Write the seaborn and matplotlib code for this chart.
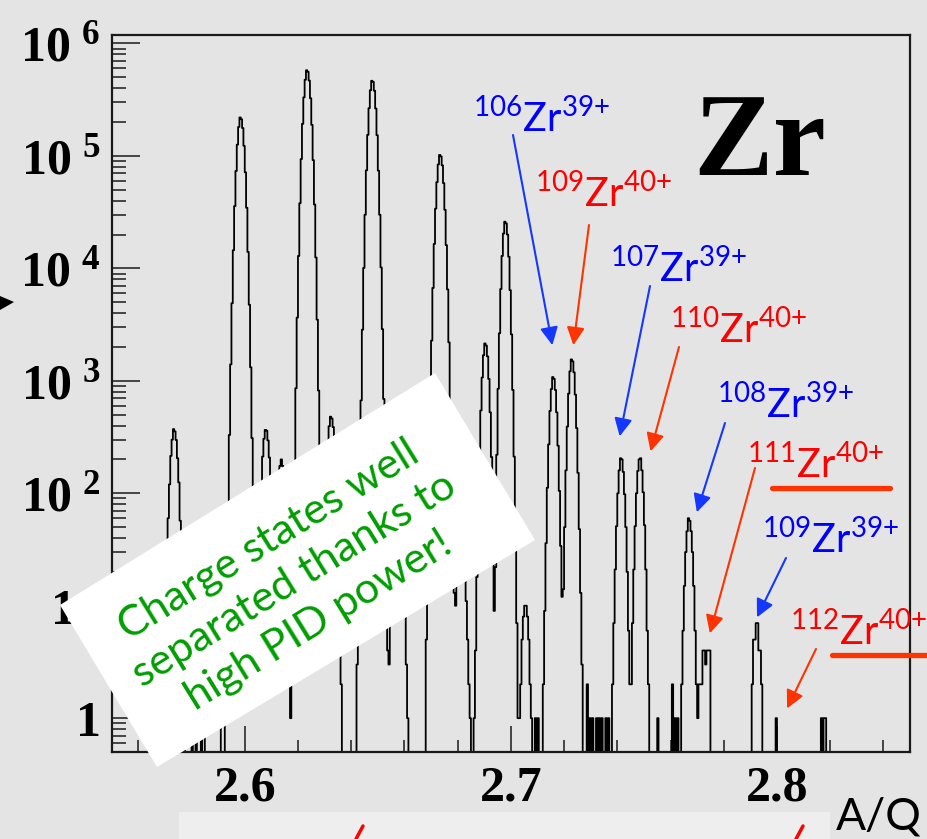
import numpy as np
import pandas as pd
import matplotlib
matplotlib.use("Agg")
import matplotlib.pyplot as plt
import seaborn as sns
from matplotlib.patches import Polygon, Rectangle
from matplotlib.lines import Line2D
from matplotlib.ticker import FixedLocator, NullFormatter, LogLocator

# ---------------- data (A/Q histogram, bin width 0.0005) ----------------
aq_min, aq_max, bin_width = 2.55, 2.85, 0.0005

p103_start = 2.5695
p103_counts = [2, 7, 25, 60, 120, 215, 300, 372, 355, 298, 205, 125, 57, 23, 8, 2]
p101b_start = 2.585
p101b_counts = [1, 2, 5, 12, 22, 30, 28, 20, 10, 4, 2, 1]
p104_start = 2.5925
p104_counts = [1, 9, 60, 330, 1400, 4900, 14500, 35800, 73500, 126000, 181000, 220000,
               212000, 177000, 123000, 71500, 34600, 14000, 4750, 1320, 310, 60, 11, 2]
p107q41_start = 2.604
p107q41_counts = [2, 8, 23, 62, 118, 212, 305, 366, 360, 295, 208, 120, 60, 22, 7, 2]
p102b_start = 2.61
p102b_counts = [1, 3, 9, 26, 65, 120, 175, 200, 175, 120, 65, 26, 9, 3, 1]
p105_start = 2.6175
p105_counts = [3, 26, 170, 860, 3650, 12900, 38000, 93800, 193000, 332000, 476000, 578000,
               560000, 468000, 326000, 189000, 91800, 37000, 12500, 3500, 820, 160, 26, 4]
p108q41_start = 2.6285
p108q41_counts = [3, 11, 30, 78, 160, 270, 395, 480, 462, 388, 270, 155, 75, 30, 10, 2]
p106_start = 2.642
p106_counts = [3, 20, 128, 670, 2850, 10100, 30000, 74500, 154000, 266000, 384000, 466000,
               455000, 380000, 264000, 153000, 74000, 30000, 10200, 2880, 690, 140, 24, 3]
p109q41_start = 2.6535
p109q41_counts = [1, 3, 9, 24, 50, 85, 122, 146, 146, 122, 85, 50, 24, 9, 3, 1]
p107_start = 2.668
p107_counts = [5, 28, 150, 640, 2280, 6700, 16500, 34000, 58500, 84000, 102000, 99000,
               82500, 57300, 33200, 16100, 6500, 2200, 615, 150, 32, 8]
p110q41_start = 2.6775
p110q41_counts = [1, 2, 5, 10, 18, 28, 36, 40, 38, 30, 20, 11, 5, 2, 1]
p105b_start = 2.686
p105b_counts = [1, 4, 18, 72, 220, 545, 1070, 1690, 2150, 2060, 1650, 1040, 525, 210, 68, 6, 2]
p108_start = 2.693
p108_counts = [1, 3, 20, 220, 850, 2650, 6550, 12900, 20400, 26000, 25100, 20000,
               12700, 6400, 2590, 830, 212, 43, 7, 1]
p111q41_start = 2.703
p111q41_counts = [1, 2, 5, 8, 10, 10, 8, 5, 2, 1]
p106b_start = 2.712
p106b_counts = [2, 9, 36, 112, 272, 540, 845, 1080, 1040, 830, 525, 265, 105, 34, 9, 2]
p109_start = 2.719
p109_counts = [3, 12, 50, 160, 392, 770, 1215, 1550, 1490, 1190, 755, 380, 152, 48, 13, 3]
p107b_start = 2.738
p107b_counts = [2, 7, 21, 51, 100, 160, 205, 200, 155, 98, 50, 20, 6, 2]
p110_start = 2.745
p110_counts = [2, 7, 21, 51, 100, 158, 200, 205, 160, 102, 52, 21, 6, 2]
p108b_start = 2.764
p108b_counts = [2, 6, 15, 30, 46, 60, 57, 46, 30, 15, 6, 2, 1]
p111_start = 2.7705
p111_counts = [2, 2, 2, 4, 4, 3, 4, 4, 4]
p109b_start = 2.7905
p109b_counts = [2, 5, 5, 7, 7, 4, 4, 2]

single_aq = [2.58025, 2.58175, 2.58375, 2.70925, 2.71025, 2.72875, 2.72975, 2.73075,
             2.73225, 2.73325, 2.73425, 2.73575, 2.73675, 2.75525, 2.76075, 2.76175,
             2.76275, 2.79975, 2.81675, 2.81775, 2.81825]
single_counts = [1, 1, 1, 1, 1, 2, 1, 1, 1, 1, 1, 1, 1, 1, 2, 1, 1, 1, 1, 1, 1]

segments = [
    (p103_start, p103_counts), (p101b_start, p101b_counts), (p104_start, p104_counts),
    (p107q41_start, p107q41_counts), (p102b_start, p102b_counts), (p105_start, p105_counts),
    (p108q41_start, p108q41_counts), (p106_start, p106_counts), (p109q41_start, p109q41_counts),
    (p107_start, p107_counts), (p110q41_start, p110q41_counts), (p105b_start, p105b_counts),
    (p108_start, p108_counts), (p111q41_start, p111q41_counts), (p106b_start, p106b_counts),
    (p109_start, p109_counts), (p107b_start, p107b_counts), (p110_start, p110_counts),
    (p108b_start, p108b_counts), (p111_start, p111_counts), (p109b_start, p109b_counts),
]

# annotation labels
label_mass = ["106", "109", "107", "110", "108", "111", "109", "112"]
label_charge = ["39", "40", "39", "40", "39", "40", "39", "40"]
label_color = ["#0000ff", "#ff0000"] * 4
arrow_color = ["#1438ff", "#ff3300"] * 4
label_px = [(473, 132), (535, 207), (610, 282), (670, 343),
            (717, 418), (747, 478), (762, 553), (790, 645)]
arrow_from_px = [(513, 135), (589, 225), (650, 286), (679, 347),
                 (725, 423), (755, 468), (786, 558), (816, 649)]
arrow_tip_aq = [2.7156, 2.7235, 2.7409, 2.7525, 2.7699, 2.7748, 2.7925, 2.8038]
arrow_tip_counts = [2075, 2075, 321, 236, 67.8, 5.68, 7.88, 1.22]

x_major = [2.6, 2.7, 2.8]
x_major_labels = ["2.6", "2.7", "2.8"]
y_major = [1, 10, 1e2, 1e3, 1e4, 1e5, 1e6]
y_major_labels = ["1", "10", r"$\mathregular{10^{\ 2}}$", r"$\mathregular{10^{\ 3}}$",
                  r"$\mathregular{10^{\ 4}}$", r"$\mathregular{10^{\ 5}}$",
                  r"$\mathregular{10^{\ 6}}$"]

# ---------------- build histogram table ----------------
n_bins = int(round((aq_max - aq_min) / bin_width))
counts = np.zeros(n_bins)
for start, vals in segments:
    k0 = int(round((start - aq_min) / bin_width))
    counts[k0:k0 + len(vals)] += np.array(vals, dtype=float)
for a, c in zip(single_aq, single_counts):
    k = int((a - aq_min) / bin_width)
    counts[k] += c
edges = aq_min + np.arange(n_bins + 1) * bin_width
centers = 0.5 * (edges[:-1] + edges[1:])
df = pd.DataFrame({"aq": centers, "n": counts})

# ---------------- figure ----------------
W, H = 928, 839
sns.set_theme(style="white")
plt.rcParams["font.family"] = ["Lato", "DejaVu Sans"]
bg = "#e4e4e4"
fig = plt.figure(figsize=(W / 100, H / 100), dpi=100, facecolor=bg)
ax = fig.add_axes([111.7 / W, 1 - 752 / H, (910 - 111.7) / W, (752 - 35) / H])
ax.set_facecolor("none")

sns.histplot(data=df, x="aq", weights="n", bins=list(edges), element="step", fill=False,
             color="black", linewidth=1.3, ax=ax)
ax.set_yscale("log")
ax.set_xlim(aq_min, aq_max)
ax.set_ylim(0.5, 1.19e6)
ax.set_xlabel("")
ax.set_ylabel("")

for s in ax.spines.values():
    s.set_visible(True)
    s.set_color("#1a1a1a")
    s.set_linewidth(1.6)

tick_font = dict(family="Liberation Serif", weight="bold", size=36, color="black")
ax.xaxis.set_major_locator(FixedLocator(x_major))
ax.set_xticklabels(x_major_labels, **tick_font)
ax.xaxis.set_minor_locator(FixedLocator(np.arange(2.56, 2.8401, 0.02)))
ax.yaxis.set_major_locator(FixedLocator(y_major))
ax.set_yticklabels(y_major_labels, **tick_font)
ax.yaxis.set_minor_locator(LogLocator(base=10, subs=np.arange(2, 10), numticks=20))
ax.yaxis.set_minor_formatter(NullFormatter())
ax.tick_params(axis="x", which="major", direction="in", length=19, width=1.1, pad=10,
               color="#1a1a1a", bottom=True, top=False)
ax.tick_params(axis="x", which="minor", direction="in", length=9, width=1.1,
               color="#1a1a1a", bottom=True, top=False)
ax.tick_params(axis="y", which="major", direction="in", length=20, width=1.1, pad=8,
               color="#1a1a1a", left=True, right=False)
ax.tick_params(axis="y", which="minor", direction="in", length=10, width=1.1,
               color="#1a1a1a", left=True, right=False)

def fx(x):
    return x / W

def fy(y):
    return 1 - y / H

# big element label
fig.text(fx(693), fy(175), "Zr", family="Liberation Serif", weight="bold", size=86,
         ha="left", va="baseline", color="black")

# isotope labels and arrows
for m, q, col, acol, (lx, ly), (sx, sy), ta, tc in zip(
        label_mass, label_charge, label_color, arrow_color, label_px,
        arrow_from_px, arrow_tip_aq, arrow_tip_counts):
    fig.text(fx(lx), fy(ly),
             r"$^{\mathregular{%s}}$Zr$^{\mathregular{%s{+}}}$" % (m, q),
             color=col, size=28.5, ha="left", va="baseline", family="Lato")
    ax.annotate("", xy=(ta, tc), xycoords="data",
                xytext=(sx, H - sy), textcoords="figure pixels",
                arrowprops=dict(arrowstyle="-|>", color=acol, lw=1.5,
                                mutation_scale=27, shrinkA=0, shrinkB=0),
                annotation_clip=False)

# red underlines
fig.add_artist(Line2D([fx(772), fx(890)], [fy(488), fy(488)], color="#ff3300", lw=3.8))
fig.add_artist(Line2D([fx(832), fx(928)], [fy(655), fy(655)], color="#ff3300", lw=3.8))

# white rotated comment box
box_px = [(60, 605), (435, 373), (535, 540), (157, 767)]
fig.add_artist(Polygon([(fx(x), fy(y)) for x, y in box_px], closed=True,
                       facecolor="white", edgecolor="none", zorder=5))
fig.text(fx(294), fy(580), "Charge states well\nseparated thanks to\nhigh PID power!",
         rotation=31.7, rotation_mode="anchor", ha="center", va="center",
         multialignment="center", color="#009e00", size=31, family="Lato",
         linespacing=1.3, zorder=6)

# A/Q axis title
fig.text(fx(836), fy(830), "A/Q", size=32, family="Lato", color="black",
         ha="left", va="baseline")

# bottom strip and small left arrow head
fig.add_artist(Rectangle((fx(179), 0), fx(830) - fx(179), fy(812),
                         transform=fig.transFigure, facecolor="#eeeeee",
                         edgecolor="none", zorder=1))
fig.add_artist(Line2D([fx(356), fx(363)], [fy(839), fy(826)], color="#ff0000", lw=2.5))
fig.add_artist(Line2D([fx(796), fx(803)], [fy(839), fy(826)], color="#ff0000", lw=2.5))
fig.add_artist(Polygon([(fx(0), fy(296)), (fx(14), fy(302)), (fx(0), fy(310))],
                       closed=True, facecolor="black", edgecolor="none"))

fig.savefig("out.png", dpi=100, facecolor=bg)
